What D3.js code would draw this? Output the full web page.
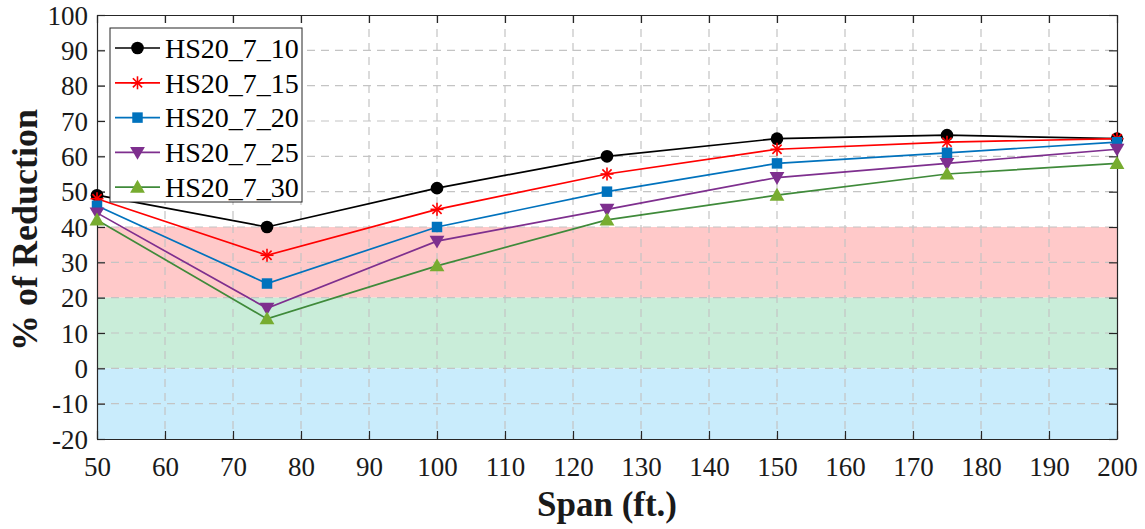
<!DOCTYPE html>
<html><head><meta charset="utf-8">
<script src="https://cdn.jsdelivr.net/npm/d3@7"></script>
<style>body{margin:0;background:#fff}svg{display:block}</style>
</head><body>
<script>
const spans = [50, 75, 100, 125, 150, 175, 200];
const seriesNames = ["HS20_7_10","HS20_7_15","HS20_7_20","HS20_7_25","HS20_7_30"];
const s10 = [49, 40, 51, 60, 65, 66, 65];
const s15 = [48, 32, 45, 55, 62, 64, 65];
const s20 = [46, 24, 40, 50, 58, 61, 64];
const s25 = [44, 17, 36, 45, 54, 58, 62];
const s30 = [42, 14, 29, 42, 49, 55, 58];
const xTicks = d3.range(50, 201, 10);
const yTicks = d3.range(-20, 101, 10);
const bands = [{lo:20,hi:40,c:"#ffc9c9"},{lo:0,hi:20,c:"#c9edd9"},{lo:-20,hi:0,c:"#c9ecfc"}];

const styles = [
  {line:"#000000", fill:"#000000", sym:"circle"},
  {line:"#ff0000", fill:"#ff0000", sym:"star"},
  {line:"#0072bd", fill:"#0072bd", sym:"square"},
  {line:"#7e2f8e", fill:"#7e2f8e", sym:"down"},
  {line:"#3f8a3a", fill:"#77ac30", sym:"up"}
];
const data = [s10, s15, s20, s25, s30];
const FONT = '"Liberation Serif", serif';

const W = 1145, H = 529;
const m = {l:97, t:15, r:1117, b:439};
const x = d3.scaleLinear().domain([50,200]).range([m.l, m.r]);
const y = d3.scaleLinear().domain([-20,100]).range([m.b, m.t]);

const svg = d3.select("body").append("svg").attr("width", W).attr("height", H);

// bands
svg.append("g").selectAll("rect").data(bands).join("rect")
  .attr("x", m.l).attr("width", m.r - m.l)
  .attr("y", d => y(d.hi)).attr("height", d => y(d.lo) - y(d.hi))
  .attr("fill", d => d.c);

// grid
const grid = svg.append("g").attr("stroke", "#c4c4c4").attr("stroke-width", 1.2).attr("stroke-dasharray", "8,6");
grid.selectAll(".gx").data(xTicks.slice(1, -1)).join("line")
  .attr("x1", d => x(d)).attr("x2", d => x(d)).attr("y1", m.t).attr("y2", m.b);
grid.selectAll(".gy").data(yTicks.slice(1, -1)).join("line")
  .attr("y1", d => y(d)).attr("y2", d => y(d)).attr("x1", m.l).attr("x2", m.r);

// axes
const fmt = d => String(d);
const axB = svg.append("g").attr("transform", `translate(0,${m.b})`)
  .call(d3.axisBottom(x).tickValues(xTicks).tickFormat(fmt).tickSize(-8).tickPadding(18).tickSizeOuter(0));
const axT = svg.append("g").attr("transform", `translate(0,${m.t})`)
  .call(d3.axisTop(x).tickValues(xTicks).tickSize(-8).tickFormat("").tickSizeOuter(0));
const axL = svg.append("g").attr("transform", `translate(${m.l},0)`)
  .call(d3.axisLeft(y).tickValues(yTicks).tickFormat(fmt).tickSize(-8).tickPadding(9).tickSizeOuter(0));
const axR = svg.append("g").attr("transform", `translate(${m.r},0)`)
  .call(d3.axisRight(y).tickValues(yTicks).tickSize(-8).tickFormat("").tickSizeOuter(0));
[axB, axT, axL, axR].forEach(a => {
  a.attr("font-family", FONT).attr("font-size", 27);
  a.selectAll("path").attr("stroke", "#262626").attr("stroke-width", 1.2);
  a.selectAll("line").attr("stroke", "#262626").attr("stroke-width", 1.2);
  a.selectAll("text").attr("fill", "#1a1a1a")
    .style("font-family", FONT).style("font-size", "27px");
});
axL.selectAll("text").attr("dy", "0.34em");

// lines and markers
const line = d3.line().x((d, i) => x(spans[i])).y(d => y(d));
const symGen = {
  circle: d3.symbol(d3.symbolCircle, 125),
  square: d3.symbol(d3.symbolSquare, 110),
  up: d3.symbol(d3.symbolTriangle, 95),
  down: d3.symbol(d3.symbolTriangle, 95)
};
function drawMarker(g, st, cx, cy) {
  if (st.sym === "star") {
    const s = g.append("g").attr("transform", `translate(${cx},${cy})`)
      .attr("stroke", st.fill).attr("stroke-width", 1.6);
    for (let k = 0; k < 4; k++) {
      const a = k * Math.PI / 4;
      s.append("line").attr("x1", -6.5 * Math.cos(a)).attr("y1", -6.5 * Math.sin(a))
        .attr("x2", 6.5 * Math.cos(a)).attr("y2", 6.5 * Math.sin(a));
    }
  } else {
    const rot = st.sym === "down" ? " rotate(180)" : "";
    const dy = st.sym === "up" ? 1.2 : (st.sym === "down" ? -1.2 : 0);
    g.append("path").attr("d", symGen[st.sym]())
      .attr("transform", `translate(${cx},${cy + dy})${rot}`)
      .attr("fill", st.fill);
  }
}
data.forEach((vals, si) => {
  const st = styles[si];
  const g = svg.append("g");
  g.append("path").datum(vals).attr("d", line).attr("fill", "none")
    .attr("stroke", st.line).attr("stroke-width", 1.7);
  vals.forEach((v, i) => drawMarker(g, st, x(spans[i]), y(v)));
});

// legend
const lg = svg.append("g");
lg.append("rect").attr("x", 110).attr("y", 28).attr("width", 192).attr("height", 174)
  .attr("fill", "#fff").attr("stroke", "#262626").attr("stroke-width", 1);
seriesNames.forEach((name, i) => {
  const st = styles[i];
  const cy = 48 + i * 34.8;
  lg.append("line").attr("x1", 115).attr("x2", 160).attr("y1", cy).attr("y2", cy)
    .attr("stroke", st.line).attr("stroke-width", 1.7);
  drawMarker(lg, st, 137.5, cy);
  lg.append("text").attr("x", 165).attr("y", cy).attr("dy", "0.35em")
    .style("font-family", FONT).style("font-size", "28px").attr("fill", "#000").text(name);
});

// titles
svg.append("text").attr("x", (m.l + m.r) / 2).attr("y", 516)
  .attr("text-anchor", "middle").style("font-family", FONT).style("font-size", "35px").style("font-weight", "bold")
  .attr("fill", "#1a1a1a").text("Span (ft.)");
svg.append("text").attr("transform", `translate(37,230) rotate(-90)`)
  .attr("text-anchor", "middle").style("font-family", FONT).style("font-size", "36px").style("font-weight", "bold")
  .attr("fill", "#1a1a1a").text("% of Reduction");
</script>
</body></html>
